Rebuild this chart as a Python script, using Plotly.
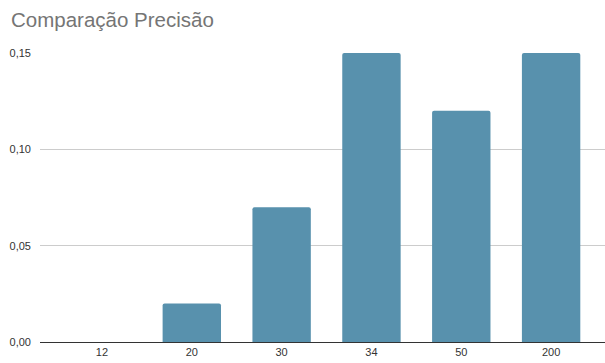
import plotly.graph_objects as go

# Precision per configuration
categorias = ["12", "20", "30", "34", "50", "200"]
precisao = [0.0, 0.02, 0.07, 0.15, 0.12, 0.15]
ticks_y = [0.0, 0.05, 0.10, 0.15]

fig = go.Figure(
    go.Bar(
        x=categorias,
        y=precisao,
        marker=dict(color="#5891ad", line=dict(width=0)),
        width=0.65,
        hoverinfo="x+y",
    )
)

fig.update_layout(
    width=605,
    height=363,
    margin=dict(l=40, r=0, t=53, b=21),
    paper_bgcolor="white",
    plot_bgcolor="white",
    separators=",.",
    barcornerradius=2,
    showlegend=False,
    font=dict(family="Arial, 'Liberation Sans', sans-serif", size=11, color="#333333"),
    title=dict(
        text="Comparação Precisão",
        x=11 / 605, xref="container", xanchor="left",
        y=0.945, yref="container", yanchor="middle",
        pad=dict(l=0, t=0, b=0, r=0),
        font=dict(family="Arial, 'Liberation Sans', sans-serif", size=20.5, color="#757575"),
    ),
    xaxis=dict(
        type="category",
        range=[-0.69, 5.6],
        showgrid=False,
        showline=True,
        linecolor="#333333",
        linewidth=1,
        ticks="",
        tickfont=dict(size=11, color="#333333"),
        fixedrange=True,
    ),
    yaxis=dict(
        range=[0, 0.15],
        tickvals=ticks_y,
        tickformat=".2f",
        showgrid=True,
        gridcolor="#cccccc",
        gridwidth=1,
        zeroline=False,
        showline=False,
        ticks="",
        ticklabelstandoff=8,
        tickfont=dict(size=11, color="#333333"),
        fixedrange=True,
    ),
)

fig.write_html("out.html")
